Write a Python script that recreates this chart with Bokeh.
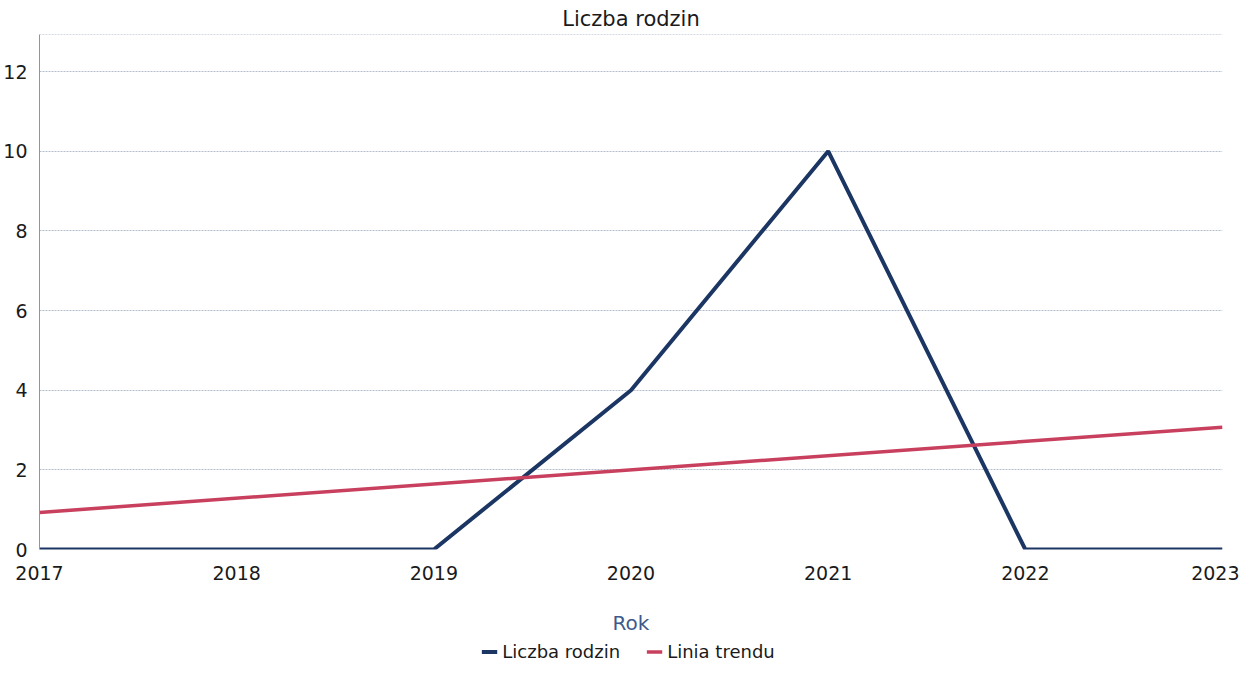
from bokeh.plotting import figure
from bokeh.models import Legend, LegendItem, Span, FixedTicker
from bokeh.layouts import column
from bokeh.embed import file_html
from bokeh.resources import INLINE

years = [2017, 2018, 2019, 2020, 2021, 2022, 2023]
families = [0, 0, 0, 4, 10, 0, 0]
trend_years = [2017, 2023]
trend_values = [0.93, 3.07]
y_ticks = [0, 2, 4, 6, 8, 10, 12]

FONT = "DejaVu Sans"
NAVY = "#1c3664"
RED = "#c8405e"

p = figure(output_backend="svg", toolbar_location=None,
           x_range=(2017, 2023), y_range=(0, 12.93),
           frame_width=1183, frame_height=515,
           min_border_left=34, min_border_right=17, min_border_top=0, min_border_bottom=14,
           title="Liczba rodzin")
p.outline_line_color = None
p.background_fill_color = "white"

p.title.align = "center"
p.title.text_font = FONT
p.title.text_font_size = "21px"
p.title.text_font_style = "normal"
p.title.text_color = "#1a1a1a"
p.title.standoff = 8

p.line(years, families, line_color=NAVY, line_width=4)
p.line(trend_years, trend_values, line_color=RED, line_width=3.5)

p.add_layout(Span(location=12.93, dimension="width", line_color="#a9b3c4",
                  line_dash="2 1", line_width=1))

p.xaxis.ticker = FixedTicker(ticks=years)
p.yaxis.ticker = FixedTicker(ticks=y_ticks)
p.xaxis.axis_line_color = None
p.xaxis.major_tick_line_color = None
p.xaxis.minor_tick_line_color = None
p.xaxis.major_tick_out = 0
p.xaxis.major_tick_in = 0
p.xaxis.major_label_standoff = 16
p.xaxis.major_label_text_font = FONT
p.xaxis.major_label_text_font_size = "19px"
p.xaxis.major_label_text_color = "#1a1a1a"
p.xaxis.axis_label = "Rok"
p.xaxis.axis_label_text_font = FONT
p.xaxis.axis_label_text_font_size = "20px"
p.xaxis.axis_label_text_font_style = "normal"
p.xaxis.axis_label_text_color = "#3d5a8c"
p.xaxis.axis_label_standoff = 28

p.yaxis.axis_line_color = "#8a96aa"
p.yaxis.major_tick_line_color = None
p.yaxis.minor_tick_line_color = None
p.yaxis.major_tick_out = 0
p.yaxis.major_tick_in = 0
p.yaxis.major_label_standoff = 12
p.yaxis.major_label_text_font = FONT
p.yaxis.major_label_text_font_size = "19px"
p.yaxis.major_label_text_color = "#1a1a1a"

p.xgrid.grid_line_color = None
p.ygrid.grid_line_color = "#b4bdcc"
p.ygrid.grid_line_dash = "2 1"
p.ygrid.grid_line_width = 1

# Legend strip below the chart (series drawn outside its visible range)
lf = figure(width=1234, height=28, output_backend="svg", toolbar_location=None,
            x_range=(0, 1), y_range=(100, 101),
            x_axis_location=None, y_axis_location=None,
            min_border=0, min_border_left=0, min_border_right=0,
            min_border_top=0, min_border_bottom=0)
lf.outline_line_color = None
lf.xgrid.grid_line_color = None
lf.ygrid.grid_line_color = None
l1 = lf.line(years, families, line_color=NAVY, line_width=4)
l2 = lf.line(trend_years, trend_values, line_color=RED, line_width=3.5)

legend = Legend(items=[LegendItem(label="Liczba rodzin", renderers=[l1]),
                       LegendItem(label="Linia trendu", renderers=[l2])],
                orientation="horizontal", location="center",
                border_line_color=None, background_fill_alpha=0,
                label_text_font=FONT, label_text_font_size="18px",
                label_text_color="#1a1a1a", label_height=18, glyph_height=18,
                glyph_width=16, spacing=26, padding=0, margin=0)
lf.add_layout(legend, "center")

layout = column(p, lf, spacing=0)
open("out.html", "w").write(file_html(layout, INLINE))
